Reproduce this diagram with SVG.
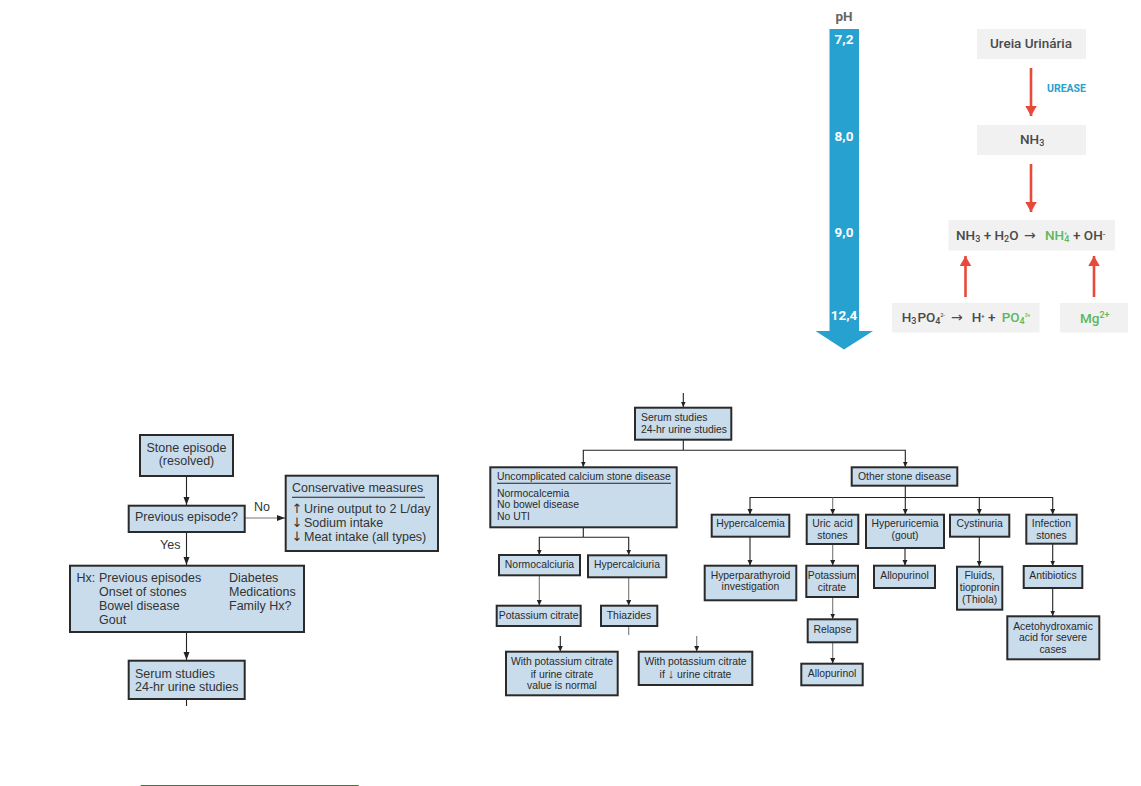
<svg xmlns="http://www.w3.org/2000/svg" width="1141" height="786" viewBox="0 0 1141 786">
<style>
.g{fill:#f1f1f1}
.r{font-family:Roboto,"Liberation Sans",sans-serif;font-weight:500;font-size:13.500px;fill:#4a4a4a}
.ar{font-family:"DejaVu Sans",sans-serif;font-size:14px;fill:#4a4a4a}
.w{font-weight:700;text-anchor:middle}
.red{stroke:#e8493a;stroke-width:2.6;fill:none;marker-end:url(#ra)}
.b{fill:#c9dcec;stroke:#2a2a2a;stroke-width:2}
.t{font-family:"Liberation Sans",Arial,sans-serif;font-size:12.500px;fill:#333}
.s{font-family:"Liberation Sans",Arial,sans-serif;font-size:10.400px;fill:#2a2a2a}
.m{text-anchor:middle}
.c{stroke:#222;stroke-width:1.1;fill:none}
.cg{stroke:#777}
.a{marker-end:url(#sa)}
.al{marker-end:url(#la)}
.up{font-family:"DejaVu Sans",sans-serif;font-size:13px;fill:#333}
</style>
<defs>
<marker id="ra" markerUnits="userSpaceOnUse" markerWidth="12" markerHeight="12" refX="10" refY="5.750" orient="auto"><path d="M0 0L10 5.750L0 11.500Z" fill="#e8493a"/></marker>
<marker id="sa" markerUnits="userSpaceOnUse" markerWidth="7" markerHeight="6" refX="5.500" refY="2.500" orient="auto"><path d="M0 0L5.500 2.500L0 5Z" fill="#222"/></marker>
<marker id="la" markerUnits="userSpaceOnUse" markerWidth="9" markerHeight="7" refX="8" refY="3" orient="auto"><path d="M0 0L8 3L0 6Z" fill="#222"/></marker>
</defs>

<g id="connectors">
<path class="red" d="M1031 68V116"/>
<path class="red" d="M1031 164V212"/>
<path class="red" d="M965.500 297V256"/>
<path class="red" d="M1094 297V256"/>
<path class="c al" d="M186.500 476V505"/>
<path class="c al" d="M186.500 532V565"/>
<path class="c al" d="M186.500 632V660"/>
<path class="c" d="M186.500 699V706"/>
<path class="c cg al" d="M244.700 518H285"/>
<path class="c a" d="M683.300 393V407"/>
<path class="c" d="M683.300 439.700V450.300"/>
<path class="c a" d="M683.300 450.300H583.300V467"/>
<path class="c a" d="M683.300 450.300H905.300V467"/>
<path class="c" d="M583.300 527.300V537.300"/>
<path class="c a" d="M583.300 537.300H539.300V555"/>
<path class="c a" d="M583.300 537.300H628.700V555"/>
<path class="c cg a" d="M539.300 575.300V605.500"/>
<path class="c cg a" d="M628.700 577.300V605.500"/>
<path class="c cg" d="M628.700 626V635"/>
<path class="c a" d="M560.300 636V651.500"/>
<path class="c cg a" d="M696.700 636V651.500"/>
<path class="c" d="M905.300 485.700V497.500"/>
<path class="c a" d="M905.300 497.500H750V514.500"/>
<path class="c cg a" d="M832.700 497.500V514.500"/>
<path class="c a" d="M905.300 497.500V514.500"/>
<path class="c a" d="M905.300 497.500H979.300V514.500"/>
<path class="c a" d="M905.300 497.500H1052.700V514.500"/>
<path class="c a" d="M750 536.700V565.500"/>
<path class="c cg a" d="M832.700 544V565.500"/>
<path class="c cg a" d="M832.700 597V619"/>
<path class="c cg a" d="M832.700 642.300V663.500"/>
<path class="c a" d="M905 548V565.500"/>
<path class="c a" d="M979.300 536.700V566.500"/>
<path class="c a" d="M1052.700 543.700V566"/>
<path class="c a" d="M1052.700 588V616"/>
</g>

<g id="ph-scale">
<text class="r m" x="844" y="21" style="font-weight:700;fill:#666">pH</text>
<path d="M829.500 29H859V331H873L844 349.500L815.500 331H829.500Z" fill="#27a1cf"/>
<text class="r w" x="844" y="44" style="fill:#fff">7,2</text>
<text class="r w" x="844" y="141" style="fill:#fff">8,0</text>
<text class="r w" x="844" y="237" style="fill:#fff">9,0</text>
<text class="r w" x="844" y="320" style="fill:#fff">12,4</text>
</g>
<g id="ureia"><rect class="g" x="977" y="29" width="109" height="30"/><text class="r m" x="1031" y="48">Ureia Urinária</text></g>
<text id="urease" x="1047" y="92" style="font-family:Roboto,'Liberation Sans',sans-serif;font-weight:700;font-size:10.500px;fill:#27a1cf">UREASE</text>
<g id="nh3"><rect class="g" x="977" y="125" width="109" height="30"/><text class="r" x="1020" y="144">NH<tspan dy="2" font-size="9">3</tspan></text></g>
<g id="reaction"><rect class="g" x="948.500" y="220" width="166.500" height="30.500"/>
<text class="r" x="956" y="240">NH<tspan dy="2" font-size="9">3</tspan><tspan dy="-2"> + H</tspan><tspan dy="2" font-size="9">2</tspan><tspan dy="-2">O</tspan></text>
<text class="ar" x="1024" y="240">→</text>
<text class="r" x="1045" y="240" style="fill:#5cb85c">NH<tspan dy="2" font-size="9">4</tspan><tspan dy="-7" dx="-5" font-size="5">+</tspan></text>
<text class="r" x="1073" y="240">+ OH<tspan dy="-3" font-size="8">-</tspan></text></g>
<g id="phosphate"><rect class="g" x="892" y="303" width="147.500" height="29.500"/>
<text class="r" x="901.700" y="322">H<tspan dy="2" font-size="9">3</tspan><tspan dy="-2" dx="1">PO</tspan><tspan dy="2" font-size="9">4</tspan><tspan dy="-7" font-size="5">2-</tspan></text>
<text class="ar" x="951" y="322">→</text>
<text class="r" x="971.700" y="322">H<tspan dy="-4" font-size="6">+</tspan><tspan dy="4"> +</tspan></text>
<text class="r" x="1001.700" y="322" style="fill:#5cb85c">PO<tspan dy="2" font-size="9">4</tspan><tspan dy="-7" font-size="5">3+</tspan></text></g>
<g id="mg"><rect class="g" x="1060" y="303" width="68" height="29.500"/><text class="r" x="1080" y="323" style="fill:#5cb85c">Mg<tspan dy="-5" font-size="9">2+</tspan></text></g>

<g id="stone-episode"><rect class="b" x="140" y="435" width="93" height="41"/><text class="t m" x="186.500" y="451.700">Stone episode</text><text class="t m" x="186.500" y="465">(resolved)</text></g>
<g id="previous-episode"><rect class="b" x="128.700" y="505.700" width="116" height="26.300"/><text class="t" x="135" y="521">Previous episode?</text></g>
<text class="t" x="254" y="511">No</text>
<text class="t" x="160" y="549">Yes</text>
<g id="conservative"><rect class="b" x="285.700" y="475.700" width="152.300" height="75.300"/><text class="t" x="292" y="492">Conservative measures</text><path class="c" d="M292 497.300H425"/>
<text class="up" x="291.500" y="512.700">↑</text><text class="t" x="304" y="513">Urine output to 2 L/day</text>
<text class="up" x="291.500" y="527">↓</text><text class="t" x="304" y="526.700">Sodium intake</text>
<text class="up" x="291.500" y="541">↓</text><text class="t" x="304" y="541">Meat intake (all types)</text></g>
<g id="hx"><rect class="b" x="70" y="565.700" width="234" height="66.300"/><text class="t" x="76.500" y="581.700">Hx:</text>
<text class="t" x="99" y="581.700">Previous episodes</text><text class="t" x="99" y="596.300">Onset of stones</text><text class="t" x="99" y="610">Bowel disease</text><text class="t" x="99" y="624.300">Gout</text>
<text class="t" x="229" y="581.700">Diabetes</text><text class="t" x="229" y="596.300">Medications</text><text class="t" x="229" y="610">Family Hx?</text></g>
<g id="serum-left"><rect class="b" x="128.700" y="660.700" width="116" height="38.300"/><text class="t" x="135" y="677.700">Serum studies</text><text class="t" x="135" y="691">24-hr urine studies</text></g>
<path id="rule" d="M140.700 785.500H358.700" stroke="#4f6f3a" stroke-width="1" fill="none"/>

<g id="serum-right"><rect class="b" x="635" y="407.700" width="96.300" height="32"/><text class="s" x="641" y="421">Serum studies</text><text class="s" x="641" y="433">24-hr urine studies</text></g>
<g id="uncomplicated"><rect class="b" x="490.300" y="467.300" width="186.400" height="60"/><text class="s" x="497" y="480">Uncomplicated calcium stone disease</text><path class="c" d="M497 483.300H671"/>
<text class="s" x="497" y="496.700">Normocalcemia</text><text class="s" x="497" y="508">No bowel disease</text><text class="s" x="497" y="520">No UTI</text></g>
<g id="normocalciuria"><rect class="b" x="499" y="555" width="81" height="20.300"/><text class="s m" x="539.500" y="568">Normocalciuria</text></g>
<g id="hypercalciuria"><rect class="b" x="588" y="555.300" width="78.300" height="22"/><text class="s m" x="627" y="568">Hypercalciuria</text></g>
<g id="potassium-citrate-a"><rect class="b" x="496.700" y="605.700" width="84" height="20.300"/><text class="s m" x="538.700" y="619.300">Potassium citrate</text></g>
<g id="thiazides"><rect class="b" x="601" y="605.700" width="56.300" height="20.300"/><text class="s m" x="629" y="619.300">Thiazides</text></g>
<g id="with-normal"><rect class="b" x="506" y="651.700" width="111.700" height="43.600"/><text class="s m" x="562" y="665">With potassium citrate</text><text class="s m" x="562" y="677.700">if urine citrate</text><text class="s m" x="562" y="689.300">value is normal</text></g>
<g id="with-low"><rect class="b" x="638.700" y="651.700" width="113.600" height="33.300"/><text class="s m" x="695.500" y="665.300">With potassium citrate</text><text class="s m" x="695.500" y="677.700">if <tspan font-size="13">↓</tspan> urine citrate</text></g>
<g id="other"><rect class="b" x="851.700" y="467.300" width="105.600" height="18.400"/><text class="s m" x="904.500" y="480">Other stone disease</text></g>
<g id="hypercalcemia"><rect class="b" x="711.700" y="514.700" width="77.600" height="22"/><text class="s m" x="750.500" y="527.300">Hypercalcemia</text></g>
<g id="uric-acid"><rect class="b" x="806.700" y="514.700" width="51.600" height="29.300"/><text class="s m" x="832.500" y="527.300">Uric acid</text><text class="s m" x="832.500" y="539.300">stones</text></g>
<g id="hyperuricemia"><rect class="b" x="866" y="514.700" width="78" height="33.300"/><text class="s m" x="905" y="527.300">Hyperuricemia</text><text class="s m" x="905" y="539.300">(gout)</text></g>
<g id="cystinuria"><rect class="b" x="950" y="514.700" width="59.300" height="22"/><text class="s m" x="979.700" y="527.300">Cystinuria</text></g>
<g id="infection"><rect class="b" x="1026.300" y="514.700" width="50.400" height="29"/><text class="s m" x="1051.500" y="527.300">Infection</text><text class="s m" x="1051.500" y="539.300">stones</text></g>
<g id="hyperparathyroid"><rect class="b" x="704.700" y="565.700" width="91.600" height="34.600"/><text class="s m" x="750.500" y="579.300">Hyperparathyroid</text><text class="s m" x="750.500" y="590.300">investigation</text></g>
<g id="potassium-citrate-b"><rect class="b" x="806.300" y="565.700" width="51.700" height="31.300"/><text class="s m" x="832" y="579.300">Potassium</text><text class="s m" x="832" y="591">citrate</text></g>
<g id="allopurinol-a"><rect class="b" x="874" y="565.700" width="61" height="22.300"/><text class="s m" x="904.500" y="579.300">Allopurinol</text></g>
<g id="fluids"><rect class="b" x="957" y="566.700" width="45.300" height="43"/><text class="s m" x="979.700" y="579.300">Fluids,</text><text class="s m" x="979.700" y="591">tiopronin</text><text class="s m" x="979.700" y="603">(Thiola)</text></g>
<g id="antibiotics"><rect class="b" x="1023.700" y="566" width="58.600" height="22"/><text class="s m" x="1053" y="579.300">Antibiotics</text></g>
<g id="acetohydroxamic"><rect class="b" x="1007.300" y="616.300" width="92" height="43"/><text class="s m" x="1053" y="630.300">Acetohydroxamic</text><text class="s m" x="1053" y="641">acid for severe</text><text class="s m" x="1053" y="652.700">cases</text></g>
<g id="relapse"><rect class="b" x="807.700" y="619.300" width="49.600" height="23"/><text class="s m" x="832.500" y="633.300">Relapse</text></g>
<g id="allopurinol-b"><rect class="b" x="801.300" y="663.700" width="61.400" height="21.600"/><text class="s m" x="832" y="677">Allopurinol</text></g>
</svg>
